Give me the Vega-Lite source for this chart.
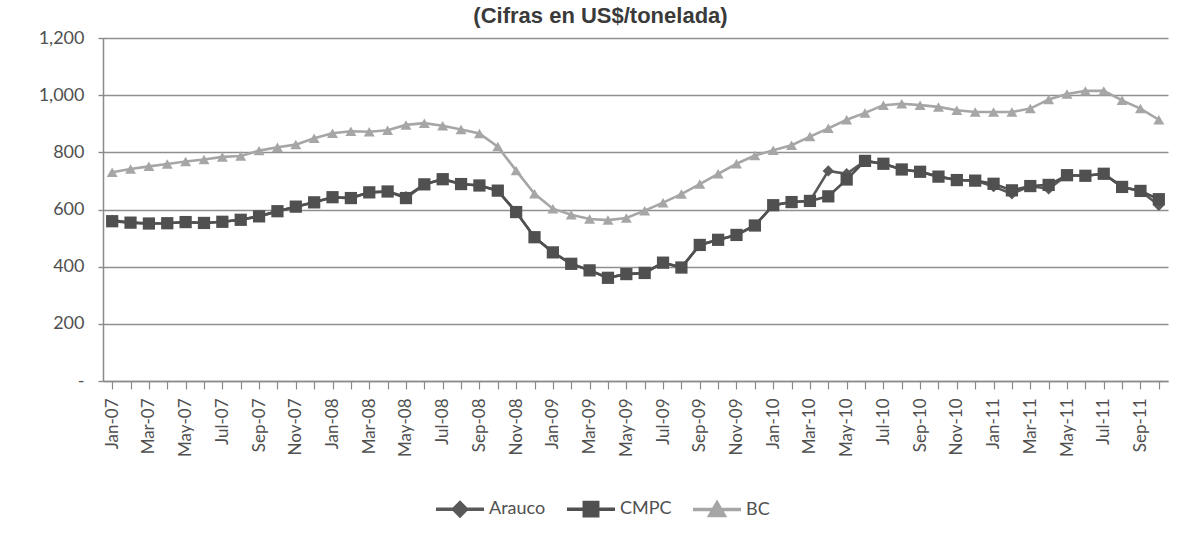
{
  "$schema": "https://vega.github.io/schema/vega-lite/v6.json",
  "width": 1065,
  "height": 343,
  "autosize": {"type": "none"},
  "padding": {"left": 103, "top": 38, "right": 15, "bottom": 156},
  "background": "white",
  "title": {"text": "(Cifras en US$/tonelada)", "font": "Liberation Sans", "fontSize": 22, "fontWeight": "bold", "color": "#3a3a3a", "anchor": "middle", "offset": 1, "dx": -35},
  "config": {"view": {"stroke": null}, "font": "Lato"},
  "datasets": {
    "d": [
      {"m":"Jan-07","s":"Arauco","v":562},{"m":"Feb-07","s":"Arauco","v":554},{"m":"Mar-07","s":"Arauco","v":551},{"m":"Apr-07","s":"Arauco","v":552},{"m":"May-07","s":"Arauco","v":556},{"m":"Jun-07","s":"Arauco","v":553},{"m":"Jul-07","s":"Arauco","v":557},{"m":"Aug-07","s":"Arauco","v":564},{"m":"Sep-07","s":"Arauco","v":576},{"m":"Oct-07","s":"Arauco","v":594},{"m":"Nov-07","s":"Arauco","v":610},{"m":"Dec-07","s":"Arauco","v":625},
      {"m":"Jan-08","s":"Arauco","v":643},{"m":"Feb-08","s":"Arauco","v":640},{"m":"Mar-08","s":"Arauco","v":660},{"m":"Apr-08","s":"Arauco","v":663},{"m":"May-08","s":"Arauco","v":645},{"m":"Jun-08","s":"Arauco","v":688},{"m":"Jul-08","s":"Arauco","v":706},{"m":"Aug-08","s":"Arauco","v":689},{"m":"Sep-08","s":"Arauco","v":684},{"m":"Oct-08","s":"Arauco","v":666},{"m":"Nov-08","s":"Arauco","v":591},{"m":"Dec-08","s":"Arauco","v":503},
      {"m":"Jan-09","s":"Arauco","v":450},{"m":"Feb-09","s":"Arauco","v":410},{"m":"Mar-09","s":"Arauco","v":387},{"m":"Apr-09","s":"Arauco","v":361},{"m":"May-09","s":"Arauco","v":374},{"m":"Jun-09","s":"Arauco","v":378},{"m":"Jul-09","s":"Arauco","v":414},{"m":"Aug-09","s":"Arauco","v":397},{"m":"Sep-09","s":"Arauco","v":476},{"m":"Oct-09","s":"Arauco","v":494},{"m":"Nov-09","s":"Arauco","v":511},{"m":"Dec-09","s":"Arauco","v":544},
      {"m":"Jan-10","s":"Arauco","v":615},{"m":"Feb-10","s":"Arauco","v":626},{"m":"Mar-10","s":"Arauco","v":630},{"m":"Apr-10","s":"Arauco","v":735},{"m":"May-10","s":"Arauco","v":725},{"m":"Jun-10","s":"Arauco","v":770},{"m":"Jul-10","s":"Arauco","v":760},{"m":"Aug-10","s":"Arauco","v":740},{"m":"Sep-10","s":"Arauco","v":732},{"m":"Oct-10","s":"Arauco","v":715},{"m":"Nov-10","s":"Arauco","v":703},{"m":"Dec-10","s":"Arauco","v":701},
      {"m":"Jan-11","s":"Arauco","v":680},{"m":"Feb-11","s":"Arauco","v":655},{"m":"Mar-11","s":"Arauco","v":682},{"m":"Apr-11","s":"Arauco","v":672},{"m":"May-11","s":"Arauco","v":720},{"m":"Jun-11","s":"Arauco","v":718},{"m":"Jul-11","s":"Arauco","v":725},{"m":"Aug-11","s":"Arauco","v":679},{"m":"Sep-11","s":"Arauco","v":665},{"m":"Oct-11","s":"Arauco","v":615},
      {"m":"Jan-07","s":"CMPC","v":559},{"m":"Feb-07","s":"CMPC","v":554},{"m":"Mar-07","s":"CMPC","v":551},{"m":"Apr-07","s":"CMPC","v":552},{"m":"May-07","s":"CMPC","v":556},{"m":"Jun-07","s":"CMPC","v":553},{"m":"Jul-07","s":"CMPC","v":557},{"m":"Aug-07","s":"CMPC","v":564},{"m":"Sep-07","s":"CMPC","v":576},{"m":"Oct-07","s":"CMPC","v":594},{"m":"Nov-07","s":"CMPC","v":610},{"m":"Dec-07","s":"CMPC","v":625},
      {"m":"Jan-08","s":"CMPC","v":643},{"m":"Feb-08","s":"CMPC","v":640},{"m":"Mar-08","s":"CMPC","v":660},{"m":"Apr-08","s":"CMPC","v":663},{"m":"May-08","s":"CMPC","v":640},{"m":"Jun-08","s":"CMPC","v":688},{"m":"Jul-08","s":"CMPC","v":706},{"m":"Aug-08","s":"CMPC","v":689},{"m":"Sep-08","s":"CMPC","v":684},{"m":"Oct-08","s":"CMPC","v":666},{"m":"Nov-08","s":"CMPC","v":591},{"m":"Dec-08","s":"CMPC","v":503},
      {"m":"Jan-09","s":"CMPC","v":450},{"m":"Feb-09","s":"CMPC","v":410},{"m":"Mar-09","s":"CMPC","v":387},{"m":"Apr-09","s":"CMPC","v":361},{"m":"May-09","s":"CMPC","v":374},{"m":"Jun-09","s":"CMPC","v":378},{"m":"Jul-09","s":"CMPC","v":414},{"m":"Aug-09","s":"CMPC","v":397},{"m":"Sep-09","s":"CMPC","v":476},{"m":"Oct-09","s":"CMPC","v":494},{"m":"Nov-09","s":"CMPC","v":511},{"m":"Dec-09","s":"CMPC","v":544},
      {"m":"Jan-10","s":"CMPC","v":615},{"m":"Feb-10","s":"CMPC","v":626},{"m":"Mar-10","s":"CMPC","v":630},{"m":"Apr-10","s":"CMPC","v":646},{"m":"May-10","s":"CMPC","v":705},{"m":"Jun-10","s":"CMPC","v":770},{"m":"Jul-10","s":"CMPC","v":760},{"m":"Aug-10","s":"CMPC","v":740},{"m":"Sep-10","s":"CMPC","v":732},{"m":"Oct-10","s":"CMPC","v":715},{"m":"Nov-10","s":"CMPC","v":703},{"m":"Dec-10","s":"CMPC","v":701},
      {"m":"Jan-11","s":"CMPC","v":690},{"m":"Feb-11","s":"CMPC","v":667},{"m":"Mar-11","s":"CMPC","v":682},{"m":"Apr-11","s":"CMPC","v":686},{"m":"May-11","s":"CMPC","v":720},{"m":"Jun-11","s":"CMPC","v":718},{"m":"Jul-11","s":"CMPC","v":725},{"m":"Aug-11","s":"CMPC","v":679},{"m":"Sep-11","s":"CMPC","v":665},{"m":"Oct-11","s":"CMPC","v":636},
      {"m":"Jan-07","s":"BC","v":730},{"m":"Feb-07","s":"BC","v":742},{"m":"Mar-07","s":"BC","v":751},{"m":"Apr-07","s":"BC","v":759},{"m":"May-07","s":"BC","v":768},{"m":"Jun-07","s":"BC","v":775},{"m":"Jul-07","s":"BC","v":784},{"m":"Aug-07","s":"BC","v":787},{"m":"Sep-07","s":"BC","v":806},{"m":"Oct-07","s":"BC","v":818},{"m":"Nov-07","s":"BC","v":827},{"m":"Dec-07","s":"BC","v":849},
      {"m":"Jan-08","s":"BC","v":867},{"m":"Feb-08","s":"BC","v":874},{"m":"Mar-08","s":"BC","v":872},{"m":"Apr-08","s":"BC","v":877},{"m":"May-08","s":"BC","v":896},{"m":"Jun-08","s":"BC","v":902},{"m":"Jul-08","s":"BC","v":893},{"m":"Aug-08","s":"BC","v":880},{"m":"Sep-08","s":"BC","v":866},{"m":"Oct-08","s":"BC","v":820},{"m":"Nov-08","s":"BC","v":736},{"m":"Dec-08","s":"BC","v":655},
      {"m":"Jan-09","s":"BC","v":603},{"m":"Feb-09","s":"BC","v":582},{"m":"Mar-09","s":"BC","v":567},{"m":"Apr-09","s":"BC","v":563},{"m":"May-09","s":"BC","v":570},{"m":"Jun-09","s":"BC","v":596},{"m":"Jul-09","s":"BC","v":624},{"m":"Aug-09","s":"BC","v":654},{"m":"Sep-09","s":"BC","v":689},{"m":"Oct-09","s":"BC","v":725},{"m":"Nov-09","s":"BC","v":760},{"m":"Dec-09","s":"BC","v":789},
      {"m":"Jan-10","s":"BC","v":807},{"m":"Feb-10","s":"BC","v":825},{"m":"Mar-10","s":"BC","v":855},{"m":"Apr-10","s":"BC","v":884},{"m":"May-10","s":"BC","v":914},{"m":"Jun-10","s":"BC","v":938},{"m":"Jul-10","s":"BC","v":965},{"m":"Aug-10","s":"BC","v":970},{"m":"Sep-10","s":"BC","v":965},{"m":"Oct-10","s":"BC","v":959},{"m":"Nov-10","s":"BC","v":947},{"m":"Dec-10","s":"BC","v":941},
      {"m":"Jan-11","s":"BC","v":941},{"m":"Feb-11","s":"BC","v":941},{"m":"Mar-11","s":"BC","v":953},{"m":"Apr-11","s":"BC","v":985},{"m":"May-11","s":"BC","v":1004},{"m":"Jun-11","s":"BC","v":1015},{"m":"Jul-11","s":"BC","v":1015},{"m":"Aug-11","s":"BC","v":982},{"m":"Sep-11","s":"BC","v":953},{"m":"Oct-11","s":"BC","v":914}
    ]
  },
  "data": {"name": "d"},
  "encoding": {
    "x": {
      "field": "m", "type": "ordinal", "sort": null,
      "scale": {"type": "point", "padding": 0.5},
      "axis": {
        "title": null, "labelAngle": -90, "labelFontSize": 17, "labelColor": "#505050", "labelFont": "Lato",
        "labelExpr": "indexof(['Jan','Mar','May','Jul','Sep','Nov'], slice(datum.value, 0, 3)) >= 0 ? datum.value : ''",
        "labelOverlap": false, "labelPadding": 9,
        "tickColor": "#8a8a8a", "tickSize": 8, "tickWidth": 1.2, "domainColor": "#8a8a8a", "domainWidth": 1.5, "grid": false
      }
    },
    "y": {
      "field": "v", "type": "quantitative",
      "scale": {"domain": [0, 1200], "nice": false},
      "axis": {
        "title": null, "values": [0, 200, 400, 600, 800, 1000, 1200],
        "labelExpr": "datum.value === 0 ? '-\u00a0\u00a0\u00a0\u00a0\u00a0' : format(datum.value, ',')",
        "labelFontSize": 18, "labelColor": "#505050", "labelFont": "Lato", "labelPadding": 14,
        "grid": true, "gridColor": "#8f8f8f", "gridWidth": 1.4,
        "domainColor": "#8a8a8a", "domainWidth": 1.5, "tickColor": "#8a8a8a", "tickSize": 5, "tickWidth": 1.4
      }
    },
    "color": {
      "field": "s", "type": "nominal",
      "scale": {"domain": ["Arauco", "CMPC", "BC"], "range": ["#595959", "#505050", "#a6a6a6"]},
      "legend": {
        "title": null, "orient": "none", "legendX": 331, "legendY": 445, "direction": "horizontal",
        "labelFontSize": 18, "labelColor": "#505050", "labelFont": "Lato", "labelOffset": 3,
        "symbolSize": 2304, "columnPadding": 14, "symbolStrokeWidth": 3.5,
        "encode": {
          "symbols": {
            "update": {
              "shape": {"signal": "datum.value === 'Arauco' ? 'M-1,0H1M0,-0.27L0.27,0L0,0.27L-0.27,0Z' : datum.value === 'CMPC' ? 'M-1,0H1M-0.28,-0.28H0.28V0.28H-0.28Z' : 'M-1,0H1M0,-0.28L0.3,0.24H-0.3Z'"},
              "fill": {"scale": "color", "field": "value"},
              "stroke": {"scale": "color", "field": "value"},
              "strokeWidth": {"value": 3.5},
              "opacity": {"value": 1}
            }
          }
        }
      }
    }
  },
  "layer": [
    {"mark": {"type": "line", "strokeWidth": 2.6}},
    {
      "transform": [{"filter": "datum.s === 'Arauco'"}],
      "mark": {"type": "point", "shape": "diamond", "filled": true, "opacity": 1, "size": 130},
      "encoding": {"color": {"field": "s", "type": "nominal", "legend": null}}
    },
    {
      "transform": [{"filter": "datum.s === 'CMPC'"}],
      "mark": {"type": "point", "shape": "square", "filled": true, "opacity": 1, "size": 150},
      "encoding": {"color": {"field": "s", "type": "nominal", "legend": null}}
    },
    {
      "transform": [{"filter": "datum.s === 'BC'"}],
      "mark": {"type": "point", "shape": "triangle-up", "filled": true, "opacity": 1, "size": 120},
      "encoding": {"color": {"field": "s", "type": "nominal", "legend": null}}
    }
  ]
}
